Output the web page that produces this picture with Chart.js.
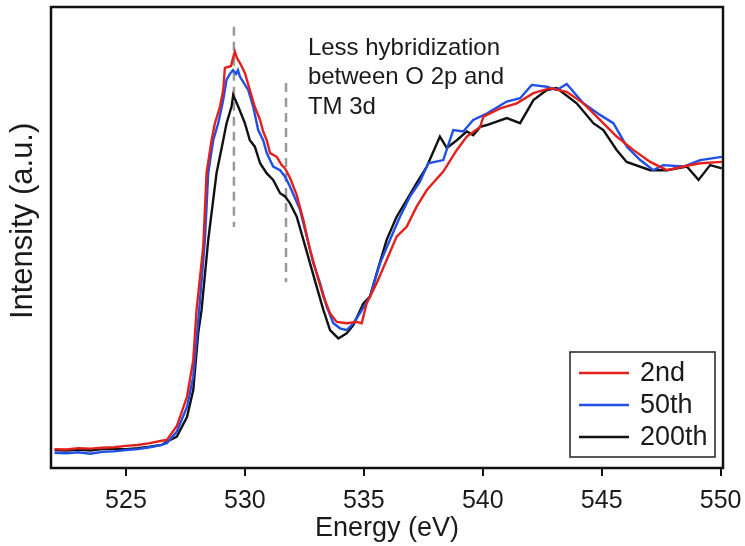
<!DOCTYPE html>
<html>
<head>
    <title>O K-edge XAS</title>
    <script src="https://cdn.jsdelivr.net/npm/chart.js"></script>
    <style>
        html, body { margin: 0; padding: 0; background: #fff; }
        canvas { display: block; }
    </style>
</head>
<body>
    <canvas id="myChart" width="745" height="546"></canvas>
    <script>
        // 數據
        const energy2nd = [522, 522.5, 523, 523.5, 524, 524.5, 525, 525.5, 526, 526.5, 526.72, 527.14, 527.57, 527.83, 527.97, 528.25, 528.39, 528.6, 528.74, 528.95, 529.09, 529.16, 529.42, 529.5, 529.58, 529.67, 529.79, 530, 530.21, 530.42, 530.64, 530.77, 530.92, 531.06, 531.34, 531.55, 531.69, 531.9, 532.18, 532.46, 532.74, 533.02, 533.3, 533.58, 533.86, 534.28, 534.7, 534.91, 535.12, 535.54, 535.96, 536.38, 536.8, 537.22, 537.65, 538.34, 538.91, 539.33, 539.89, 540.03, 540.73, 541.43, 542.13, 542.83, 543.53, 544.23, 544.93, 545.63, 546.33, 547.04, 547.74, 548.44, 549.14, 550.05];
        const intensity2nd = [0.041, 0.040, 0.043, 0.042, 0.044, 0.045, 0.048, 0.050, 0.054, 0.059, 0.061, 0.091, 0.155, 0.234, 0.343, 0.480, 0.640, 0.711, 0.748, 0.783, 0.820, 0.868, 0.872, 0.889, 0.903, 0.889, 0.879, 0.857, 0.820, 0.783, 0.755, 0.730, 0.711, 0.683, 0.675, 0.657, 0.650, 0.629, 0.592, 0.538, 0.473, 0.422, 0.372, 0.336, 0.317, 0.314, 0.317, 0.314, 0.357, 0.401, 0.451, 0.502, 0.523, 0.567, 0.603, 0.643, 0.690, 0.719, 0.740, 0.762, 0.780, 0.791, 0.813, 0.824, 0.816, 0.791, 0.755, 0.719, 0.690, 0.664, 0.646, 0.654, 0.661, 0.664];

        const energy50th = [522, 522.5, 523, 523.5, 524, 524.5, 525, 525.5, 526, 526.5, 526.72, 527.14, 527.57, 527.83, 528.08, 528.32, 528.46, 528.67, 528.88, 529.09, 529.23, 529.37, 529.5, 529.63, 529.71, 529.79, 530.14, 530.35, 530.56, 530.77, 530.92, 531.19, 531.48, 531.69, 531.9, 532.32, 532.6, 532.88, 533.16, 533.44, 533.72, 534, 534.28, 534.56, 534.84, 535.26, 535.68, 536.1, 536.52, 536.94, 537.36, 537.71, 538.34, 538.76, 539.18, 539.6, 540.17, 541.01, 541.57, 542.06, 542.69, 543.11, 543.53, 544.23, 544.93, 545.49, 546.06, 546.62, 547.17, 547.59, 548.44, 549.14, 550.05];
        const intensity50th = [0.033, 0.032, 0.034, 0.031, 0.035, 0.036, 0.039, 0.041, 0.045, 0.050, 0.054, 0.079, 0.133, 0.198, 0.343, 0.495, 0.640, 0.711, 0.748, 0.798, 0.842, 0.855, 0.863, 0.855, 0.863, 0.849, 0.820, 0.784, 0.733, 0.711, 0.683, 0.654, 0.646, 0.632, 0.610, 0.560, 0.502, 0.444, 0.401, 0.350, 0.314, 0.303, 0.299, 0.314, 0.336, 0.372, 0.444, 0.495, 0.545, 0.589, 0.621, 0.661, 0.668, 0.733, 0.730, 0.755, 0.769, 0.795, 0.802, 0.831, 0.827, 0.820, 0.833, 0.791, 0.766, 0.748, 0.697, 0.668, 0.646, 0.657, 0.654, 0.668, 0.675];

        const energy200th = [522, 522.5, 523, 523.5, 524, 524.5, 525, 525.5, 526, 526.5, 526.72, 527.14, 527.57, 527.83, 528.04, 528.18, 528.46, 528.81, 529.09, 529.23, 529.44, 529.51, 529.72, 530, 530.21, 530.42, 530.64, 530.92, 531.19, 531.34, 531.48, 531.69, 531.9, 532.18, 532.46, 532.74, 533.02, 533.3, 533.58, 533.93, 534.28, 534.56, 534.98, 535.26, 535.54, 535.96, 536.38, 536.8, 537.22, 537.65, 538.2, 538.49, 538.91, 539.33, 539.6, 539.89, 540.17, 541.01, 541.57, 542.13, 542.69, 543.11, 543.95, 544.65, 545.07, 545.63, 546.05, 547.04, 547.74, 548.58, 549.07, 549.56, 550.05];
        const intensity200th = [0.039, 0.038, 0.040, 0.038, 0.041, 0.041, 0.041, 0.043, 0.046, 0.050, 0.057, 0.068, 0.111, 0.169, 0.293, 0.343, 0.495, 0.640, 0.711, 0.748, 0.784, 0.809, 0.784, 0.748, 0.711, 0.697, 0.661, 0.639, 0.625, 0.610, 0.596, 0.589, 0.574, 0.545, 0.495, 0.444, 0.393, 0.343, 0.299, 0.281, 0.292, 0.310, 0.357, 0.372, 0.422, 0.495, 0.545, 0.581, 0.618, 0.654, 0.719, 0.694, 0.711, 0.730, 0.722, 0.740, 0.744, 0.759, 0.748, 0.798, 0.820, 0.824, 0.791, 0.748, 0.733, 0.690, 0.664, 0.646, 0.646, 0.654, 0.625, 0.657, 0.650];

        // 虛線標記位置
        const guideEnergy = [529.54, 531.73];
        const guideTop = [0.957, 0.835];
        const guideBottom = [0.523, 0.403];

        const xTicks = [525, 530, 535, 540, 545, 550];
        const seriesNames = ['2nd', '50th', '200th'];
        const noteLines = ['Less hybridization', 'between O 2p and', 'TM 3d'];
        const noteEnergy = 532.65;
        const noteIntensity = 0.896;
        const yTitle = 'Intensity (a.u.)';
        const yTitleCenter = 0.536; // 標題中心 (y 值)

        const FONT = "'Liberation Sans', Arial, sans-serif";
        Chart.defaults.font.family = FONT;
        Chart.defaults.color = '#1a1a1a';

        function toPoints(xs, ys) {
            const n = Math.min(xs.length, ys.length);
            const pts = [];
            for (let i = 0; i < n; i++) pts.push({ x: xs[i], y: ys[i] });
            return pts;
        }

        const datasets = [
            { label: seriesNames[0], data: toPoints(energy2nd, intensity2nd), borderColor: '#e3201b', borderWidth: 2.4, pointRadius: 0, tension: 0, inKey: true },
            { label: seriesNames[1], data: toPoints(energy50th, intensity50th), borderColor: '#1f4fe6', borderWidth: 2.4, pointRadius: 0, tension: 0, inKey: true },
            { label: seriesNames[2], data: toPoints(energy200th, intensity200th), borderColor: '#111111', borderWidth: 2.4, pointRadius: 0, tension: 0, inKey: true }
        ];
        guideEnergy.forEach((e, i) => {
            datasets.push({
                label: 'guide' + i,
                data: [{ x: e, y: guideTop[i] }, { x: e, y: guideBottom[i] }],
                borderColor: '#9a9a9a', borderWidth: 2.5, borderDash: [9, 6],
                pointRadius: 0, inKey: false
            });
        });

        // 外框、y 軸標題、註解文字與圖例
        const decorPlugin = {
            id: 'decor',
            afterDraw(chart) {
                const ctx = chart.ctx;
                const a = chart.chartArea;
                const sx = chart.scales.x, sy = chart.scales.y;
                ctx.save();
                ctx.strokeStyle = '#111';
                ctx.lineWidth = 2.5;
                ctx.strokeRect(a.left, a.top, a.right - a.left, a.bottom - a.top);

                // y 軸標題
                ctx.save();
                ctx.translate(23, sy.getPixelForValue(yTitleCenter));
                ctx.rotate(-Math.PI / 2);
                ctx.fillStyle = '#1a1a1a';
                ctx.font = '31px ' + FONT;
                ctx.textAlign = 'center';
                ctx.textBaseline = 'middle';
                ctx.fillText(yTitle, 0, 0);
                ctx.restore();

                // 註解
                ctx.fillStyle = '#1a1a1a';
                ctx.font = '24px ' + FONT;
                ctx.textAlign = 'left';
                ctx.textBaseline = 'alphabetic';
                const nx = sx.getPixelForValue(noteEnergy);
                const ny = sy.getPixelForValue(noteIntensity);
                noteLines.forEach((t, i) => ctx.fillText(t, nx, ny + i * 29.5));

                // 圖例
                const items = chart.data.datasets.filter(d => d.inKey);
                const boxR = a.right - 8, boxB = a.bottom - 11;
                const boxW = 145, boxH = 105;
                const bx = boxR - boxW, by = boxB - boxH;
                ctx.fillStyle = '#fff';
                ctx.fillRect(bx, by, boxW, boxH);
                ctx.lineWidth = 1.5;
                ctx.strokeStyle = '#222';
                ctx.strokeRect(bx, by, boxW, boxH);
                ctx.font = '27px ' + FONT;
                ctx.textBaseline = 'middle';
                items.forEach((d, i) => {
                    const ly = by + 21 + i * 32;
                    ctx.strokeStyle = d.borderColor;
                    ctx.lineWidth = 2.5;
                    ctx.beginPath();
                    ctx.moveTo(bx + 9, ly);
                    ctx.lineTo(bx + 59, ly);
                    ctx.stroke();
                    ctx.fillStyle = '#1a1a1a';
                    ctx.fillText(d.label, bx + 70, ly + 1);
                });
                ctx.restore();
            }
        };

        const ctx = document.getElementById('myChart').getContext('2d');
        const myChart = new Chart(ctx, {
            type: 'line',
            data: { datasets: datasets },
            options: {
                responsive: false,
                animation: false,
                layout: { padding: { top: 7, right: 22, left: 0, bottom: 0 } },
                plugins: {
                    legend: { display: false },
                    tooltip: { enabled: false }
                },
                scales: {
                    x: {
                        type: 'linear',
                        min: 521.85,
                        max: 550.1,
                        afterBuildTicks: s => { s.ticks = xTicks.map(v => ({ value: v })); },
                        afterFit: s => { s.height = 78; s.paddingLeft = 0; s.paddingRight = 0; },
                        border: { display: false },
                        grid: { display: true, drawOnChartArea: false, drawTicks: true, tickLength: 8, color: '#111', lineWidth: 2 },
                        ticks: { font: { size: 25 }, padding: 10, maxRotation: 0, color: '#1a1a1a' },
                        title: { display: true, text: 'Energy (eV)', font: { size: 27 }, padding: { top: 0, bottom: 1 }, color: '#1a1a1a' }
                    },
                    y: {
                        min: 0,
                        max: 1,
                        afterFit: s => { s.width = 51; s.paddingTop = 0; s.paddingBottom = 0; },
                        border: { display: false },
                        grid: { display: false },
                        ticks: { display: false },
                        title: { display: false }
                    }
                }
            },
            plugins: [decorPlugin]
        });
    </script>
</body>
</html>
